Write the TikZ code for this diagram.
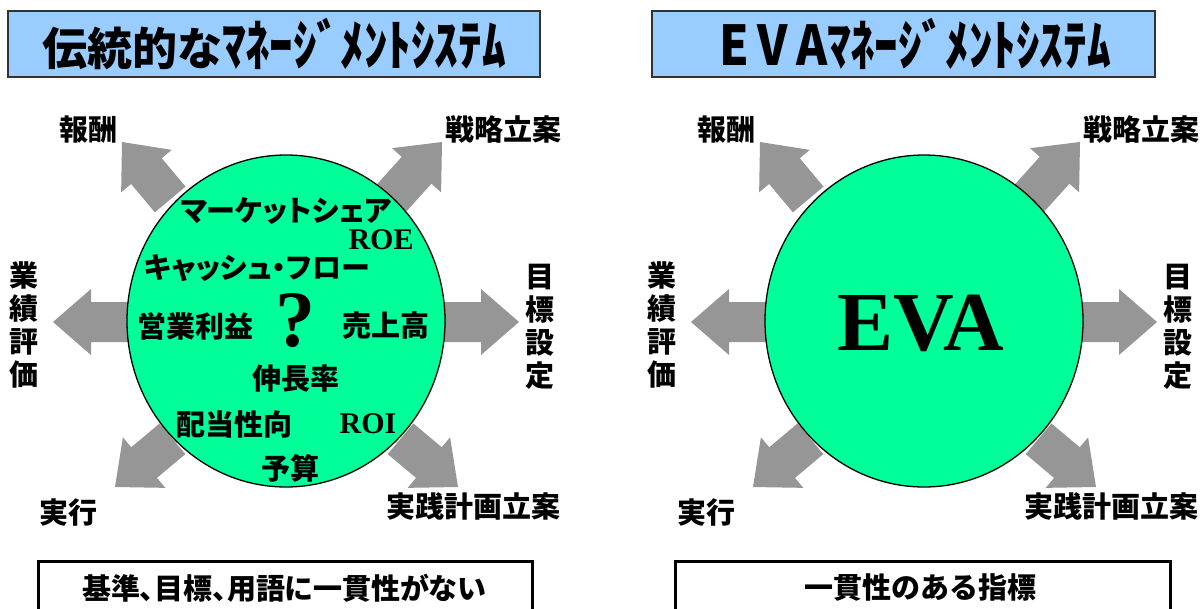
\documentclass[tikz,border=0pt]{standalone}
\usepackage{fontspec}
\usepackage{graphicx}
\usetikzlibrary{shapes.geometric}
\newfontfamily\jp{Noto Sans CJK JP}
\newfontfamily\jpp{Noto Sans CJK JP}[RawFeature=+palt]
\newfontfamily\tms{Liberation Serif}
\definecolor{titleblue}{HTML}{99CCFF}
\definecolor{mint}{HTML}{00FF99}
\definecolor{arrowgray}{HTML}{969696}
\newcommand\tallkana[1]{\scalebox{1.05}[1.22]{#1}}
\tikzset{
  lbl/.style={font=\jp\bfseries\fontsize{29}{33}\selectfont, inner sep=0pt, align=center},
  klbl/.style={font=\jpp\bfseries\fontsize{29}{33}\selectfont, inner sep=0pt},
  rlbl/.style={font=\tms\bfseries\fontsize{30}{30}\selectfont, inner sep=0pt},
  ttl/.style={font=\jp\bfseries\fontsize{45}{45}\selectfont, inner sep=0pt},
  tbox/.style={draw=black!80, line width=1.2pt, fill=titleblue, inner sep=0pt},
  bbox/.style={draw=black, line width=3pt, fill=white, inner sep=0pt},
  circ/.style={ellipse, draw=black, line width=1.3pt, fill=mint, inner sep=0pt,
    minimum width=318pt, minimum height=332pt},
  barrow/.style={fill=arrowgray}
}
\newcommand\blockarr[3]{\fill[barrow, shift={(#1,#2)}, rotate=#3]
  (0,0) -- (-38,33) -- (-38,20) -- (-75,20) -- (-75,-20) -- (-38,-20) -- (-38,-33) -- cycle;}
\newcommand\sidepanel[2]{%
\begin{scope}[xshift=#2]
  \blockarr{53}{322}{180}
  \blockarr{519}{322}{0}
  \blockarr{122}{142}{130}
  \blockarr{442}{142}{48}
  \blockarr{115}{487}{220}
  \blockarr{458}{487}{-40}
  \node[circ] (#1c) at (286,321) {};
  \node[lbl] (#1a) at (88,130) {報酬};
  \node[lbl] (#1b) at (503,130) {戦略立案};
  \node[lbl] (#1d) at (24,325) {業\\績\\評\\価};
  \node[lbl] (#1e) at (540,327) {目\\標\\設\\定};
  \node[lbl] (#1f) at (68,513) {実行};
  \node[lbl] (#1g) at (473,506) {実践計画立案};
\end{scope}}
\begin{document}
\begin{tikzpicture}[x=1pt,y=-1pt]
  \clip (0,0) rectangle (1204,608);
  \fill[white] (0,0) rectangle (1204,608);
  % title boxes
  \node[tbox, minimum width=532pt, minimum height=66pt] (t1) at (274,44) {};
  \node[ttl] (t1t) at (274,44) {伝統的な\tallkana{ﾏﾈｰｼﾞﾒﾝﾄｼｽﾃﾑ}};
  \node[tbox, minimum width=503pt, minimum height=66pt] (t2) at (903.5,44) {};
  \node[ttl] (t2t) at (915,44) {\tallkana{E\kern8pt V\kern8pt Aﾏﾈｰｼﾞﾒﾝﾄｼｽﾃﾑ}};
  % panels
  \sidepanel{L}{0}
  \sidepanel{R}{638}
  % left circle contents
  \node[klbl] (m1) at (286,211) {マーケットシェア};
  \node[rlbl] (m2) at (381,240) {ROE};
  \node[klbl] (m3) at (257,268) {キャッシュ・フロー};
  \node[lbl] (m4) at (195,326) {営業利益};
  \node[font=\tms\bfseries\fontsize{80}{80}\selectfont, inner sep=0pt] (q) at (295,321) {?};
  \node[lbl] (m5) at (386,326) {売上高};
  \node[lbl] (m6) at (296,379) {伸長率};
  \node[lbl] (m7) at (234,424) {配当性向};
  \node[rlbl] (m8) at (368,424) {ROI};
  \node[lbl] (m9) at (290,468) {予算};
  % right circle content
  \node[font=\tms\bfseries\fontsize{84}{84}\selectfont, inner sep=0pt] (eva) at (921,323) {EVA};
  % bottom boxes
  \node[bbox, minimum width=494pt, minimum height=70pt, anchor=north west] (b1) at (37,560) {};
  \node[klbl] (b1t) at (284,588) {基準、目標、用語に一貫性がない};
  \node[bbox, minimum width=495pt, minimum height=70pt, anchor=north west] (b2) at (674,560) {};
  \node[lbl] (b2t) at (920,588) {一貫性のある指標};
\end{tikzpicture}
\end{document}
